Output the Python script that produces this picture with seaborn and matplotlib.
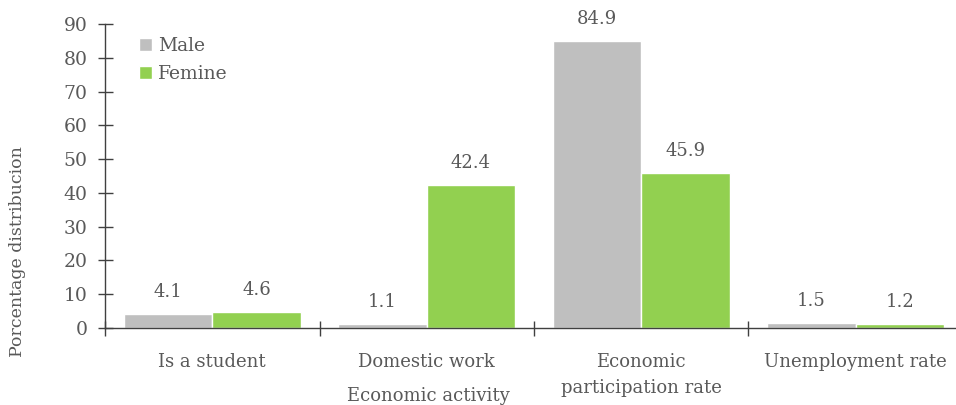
import matplotlib
matplotlib.use("Agg")
import matplotlib.pyplot as plt
import seaborn as sns
import pandas as pd
import numpy as np

categories = ["Is a student", "Domestic work", "Economic\nparticipation rate", "Unemployment rate"]
male = [4.1, 1.1, 84.9, 1.5]
female = [4.6, 42.4, 45.9, 1.2]
series = ["Male", "Femine"]
yticks = [0, 10, 20, 30, 40, 50, 60, 70, 80, 90]

df = pd.DataFrame({
    "category": categories * 2,
    "value": male + female,
    "sex": [series[0]] * 4 + [series[1]] * 4,
})

sns.set_theme(style="white")
plt.rcParams["font.family"] = ["DejaVu Serif"]
text_color = "#595959"
axis_color = "#404040"

fig = plt.figure(figsize=(9.56, 4.05), dpi=100)
ax = fig.add_axes([105 / 956, 77 / 405, 858 / 956, 304 / 405])

sns.barplot(data=df, x="category", y="value", hue="sex", order=categories,
            hue_order=series, palette=["#BFBFBF", "#92D050"], saturation=1,
            width=0.825, edgecolor="white", linewidth=1, ax=ax, legend=True)

for container in ax.containers:
    for bar in container:
        h = bar.get_height()
        ax.annotate(f"{h:.1f}", (bar.get_x() + bar.get_width() / 2, h),
                    xytext=(0, 16), textcoords="offset points",
                    ha="center", va="center", fontsize=13, color=text_color)

ax.set_xlim(-0.5, 3.5)
ax.set_ylim(0, 90)
ax.set_yticks(yticks)
ax.set_yticklabels([str(t) for t in yticks])
ax.set_xticks(np.arange(-0.5, 4.0, 1.0))
ax.set_xticklabels([])
ax.set_xticks(range(len(categories)), minor=True)
ax.set_xticklabels(categories, minor=True, linespacing=1.55)
ax.tick_params(axis="x", which="major", direction="inout", length=10.8, width=1, color=axis_color)
ax.tick_params(axis="x", which="minor", length=0, pad=18, labelsize=13, labelcolor=text_color)
ax.tick_params(axis="y", direction="inout", length=10.8, width=1, color=axis_color,
               pad=7, labelsize=13.5, labelcolor=text_color)
ax.tick_params(axis="y", left=True)
ax.tick_params(axis="x", which="major", bottom=True)

for side in ["top", "right"]:
    ax.spines[side].set_visible(False)
for side in ["left", "bottom"]:
    ax.spines[side].set_color(axis_color)
    ax.spines[side].set_linewidth(1)

ax.set_xlabel("")
ax.set_ylabel("")
fig.text(18 / 956, 1 - 252 / 405, "Porcentage distribucion", rotation=90,
         ha="center", va="center", fontsize=12.5, color=text_color)
fig.text(428 / 956, 1 - 396 / 405, "Economic activity", ha="center", va="center",
         fontsize=13, color=text_color)

leg = ax.legend(loc="upper left", bbox_to_anchor=(0.024, 1.0), frameon=False,
                fontsize=13.5, handlelength=0.7, handleheight=0.7, handletextpad=0.35,
                labelspacing=0.55, borderaxespad=0.3)
for t in leg.get_texts():
    t.set_color(text_color)

fig.savefig("out.png", dpi=100)
